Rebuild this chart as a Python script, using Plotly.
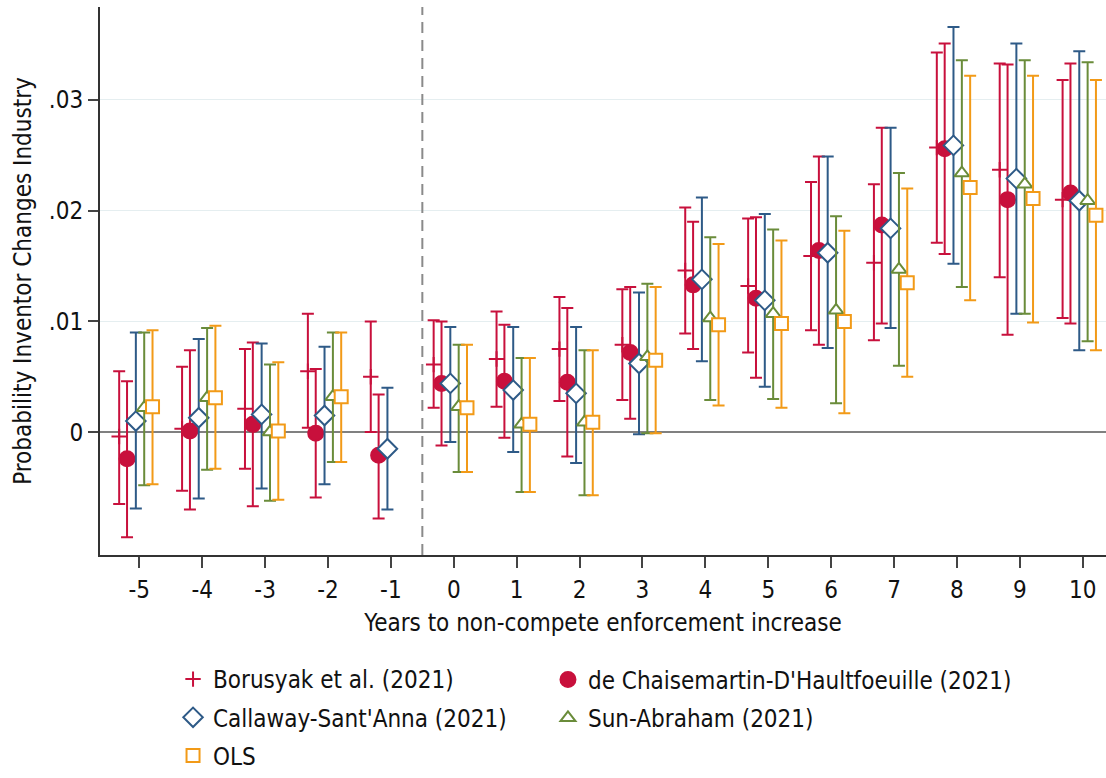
import plotly.graph_objects as go

# ---------------- data ----------------
event_time = [-5, -4, -3, -2, -1, 0, 1, 2, 3, 4, 5, 6, 7, 8, 9, 10]
tick_labels = ["-5", "-4", "-3", "-2", "-1", "0", "1", "2", "3", "4", "5", "6", "7", "8", "9", "10"]

bor_est = [-0.0004, 0.0003, 0.0021, 0.0055, 0.0050, 0.0061, 0.0066, 0.0075, 0.0079, 0.0146, 0.0132, 0.0159, 0.0153, 0.0257, 0.0237, 0.0210]
bor_lo = [-0.0065, -0.0053, -0.0033, 0.0004, 0.0000, 0.0022, 0.0023, 0.0028, 0.0029, 0.0089, 0.0072, 0.0092, 0.0083, 0.0171, 0.0140, 0.0103]
bor_hi = [0.0055, 0.0059, 0.0075, 0.0107, 0.0100, 0.0101, 0.0109, 0.0122, 0.0129, 0.0203, 0.0193, 0.0226, 0.0224, 0.0343, 0.0333, 0.0318]

dcdh_est = [-0.0024, 0.0001, 0.0007, -0.0001, -0.0021, 0.0044, 0.0046, 0.0045, 0.0072, 0.0133, 0.0121, 0.0164, 0.0187, 0.0256, 0.0210, 0.0216]
dcdh_lo = [-0.0095, -0.0070, -0.0067, -0.0059, -0.0078, -0.0012, -0.0005, -0.0022, 0.0012, 0.0075, 0.0049, 0.0079, 0.0098, 0.0161, 0.0088, 0.0098]
dcdh_hi = [0.0046, 0.0074, 0.0081, 0.0057, 0.0034, 0.0100, 0.0097, 0.0112, 0.0131, 0.0190, 0.0194, 0.0249, 0.0275, 0.0351, 0.0332, 0.0333]

cs_est = [0.0010, 0.0013, 0.0016, 0.0015, -0.0015, 0.0044, 0.0038, 0.0035, 0.0062, 0.0138, 0.0119, 0.0162, 0.0184, 0.0259, 0.0229, 0.0209]
cs_lo = [-0.0069, -0.0060, -0.0051, -0.0047, -0.0070, -0.0009, -0.0018, -0.0028, -0.0002, 0.0064, 0.0041, 0.0076, 0.0094, 0.0152, 0.0107, 0.0074]
cs_hi = [0.0090, 0.0084, 0.0080, 0.0077, 0.0040, 0.0095, 0.0095, 0.0095, 0.0126, 0.0212, 0.0197, 0.0249, 0.0275, 0.0366, 0.0351, 0.0344]

sa_est = [0.0022, 0.0031, 0.0000, 0.0032, None, 0.0023, 0.0007, 0.0009, 0.0068, 0.0103, 0.0107, 0.0110, 0.0147, 0.0234, 0.0224, 0.0209]
sa_lo = [-0.0048, -0.0034, -0.0062, -0.0027, None, -0.0036, -0.0054, -0.0057, -0.0001, 0.0029, 0.0030, 0.0026, 0.0060, 0.0131, 0.0107, 0.0082]
sa_hi = [0.0090, 0.0094, 0.0061, 0.0090, None, 0.0079, 0.0067, 0.0074, 0.0134, 0.0176, 0.0183, 0.0195, 0.0234, 0.0336, 0.0336, 0.0334]

ols_est = [0.0023, 0.0031, 0.0001, 0.0032, None, 0.0022, 0.0007, 0.0009, 0.0065, 0.0097, 0.0098, 0.0100, 0.0135, 0.0221, 0.0211, 0.0196]
ols_lo = [-0.0047, -0.0033, -0.0061, -0.0027, None, -0.0036, -0.0054, -0.0057, -0.0001, 0.0024, 0.0022, 0.0017, 0.0050, 0.0119, 0.0099, 0.0074]
ols_hi = [0.0092, 0.0096, 0.0063, 0.0090, None, 0.0079, 0.0067, 0.0074, 0.0131, 0.0170, 0.0173, 0.0182, 0.0220, 0.0322, 0.0322, 0.0318]

y_tick_vals = [0, 0.01, 0.02, 0.03]
y_tick_text = ["0", ".01", ".02", ".03"]

series = [
    ("Borusyak et al. (2021)", bor_est, bor_lo, bor_hi),
    ("de Chaisemartin-D'Haultfoeuille (2021)", dcdh_est, dcdh_lo, dcdh_hi),
    ("Callaway-Sant'Anna (2021)", cs_est, cs_lo, cs_hi),
    ("Sun-Abraham (2021)", sa_est, sa_lo, sa_hi),
    ("OLS", ols_est, ols_lo, ols_hi),
]

# ---------------- styles ----------------
RED = "#C8103C"
BLUE = "#2E5A87"
GREEN = "#6A8C3A"
ORANGE = "#F29A17"
FONT = "Liberation Sans Narrow, Arial Narrow, DejaVu Sans Condensed, Liberation Sans, sans-serif"

STYLE = {
    "Borusyak et al. (2021)": dict(offset=-0.32, color=RED, symbol="cross-thin", size=11, fill=RED, legend="legend"),
    "de Chaisemartin-D'Haultfoeuille (2021)": dict(offset=-0.195, color=RED, symbol="circle", size=15, fill=RED, legend="legend2"),
    "Callaway-Sant'Anna (2021)": dict(offset=-0.055, color=BLUE, symbol="diamond", size=15, fill="white", legend="legend"),
    "Sun-Abraham (2021)": dict(offset=0.078, color=GREEN, symbol="triangle-up", size=13, fill="white", legend="legend2"),
    "OLS": dict(offset=0.21, color=ORANGE, symbol="square", size=13, fill="white", legend="legend"),
}

fig = go.Figure()
for name, est, lo, hi in series:
    st = STYLE[name]
    xs, ys, up, dn = [], [], [], []
    for t, e, l, h in zip(event_time, est, lo, hi):
        if e is None:
            continue
        xs.append(t + st["offset"])
        ys.append(e)
        up.append(h - e)
        dn.append(e - l)
    fig.add_trace(go.Scatter(
        x=xs, y=ys, mode="markers", name=name, legend=st["legend"], legendgroup=name,
        marker=dict(symbol=st["symbol"], size=st["size"], color=st["fill"],
                    line=dict(color=st["color"], width=2)),
        error_y=dict(type="data", symmetric=False, array=up, arrayminus=dn,
                     color=st["color"], thickness=2, width=6),
    ))

fig.add_vline(x=-0.5, line=dict(color="#8a8a8a", width=2, dash="11px,7px"))

legend_common = dict(orientation="v", yanchor="top", xanchor="left",
                     font=dict(family=FONT, size=24, color="#111111"),
                     itemsizing="trace", traceorder="grouped", tracegroupgap=4,
                     bgcolor="rgba(0,0,0,0)")

fig.update_layout(
    width=1106, height=778,
    margin=dict(l=100, r=0, t=7, b=223),
    paper_bgcolor="white", plot_bgcolor="white",
    font=dict(family=FONT, size=24, color="#111111"),
    showlegend=True,
    legend=dict(x=0.0726, y=-0.187, **legend_common),
    legend2=dict(x=0.4453, y=-0.187, **legend_common),
)
fig.update_xaxes(
    range=[-5.625, 10.37], tickmode="array", tickvals=event_time, ticktext=tick_labels,
    showgrid=False, zeroline=False, showline=True, linecolor="#333333", linewidth=2,
    ticks="outside", ticklen=11, tickwidth=2, tickcolor="#444444", automargin=False,
    ticklabelstandoff=1,
    title=dict(text="Years to non-compete enforcement increase", standoff=11,
               font=dict(family=FONT, size=24)),
    tickfont=dict(family=FONT, size=24),
)
fig.update_yaxes(
    range=[-0.0111, 0.0384], tickmode="array", tickvals=y_tick_vals, ticktext=y_tick_text,
    showgrid=True, gridcolor="#e5eef0", gridwidth=1,
    zeroline=True, zerolinecolor="#808080", zerolinewidth=2,
    showline=True, linecolor="#333333", linewidth=2,
    ticks="outside", ticklen=10, tickwidth=2, tickcolor="#444444", automargin=False,
    title=dict(text="Probability Inventor Changes Industry", standoff=10,
               font=dict(family=FONT, size=24)),
    tickfont=dict(family=FONT, size=24),
)

fig.write_html("out.html", config={"displayModeBar": False},
               post_script="document.body.style.margin='0';")
